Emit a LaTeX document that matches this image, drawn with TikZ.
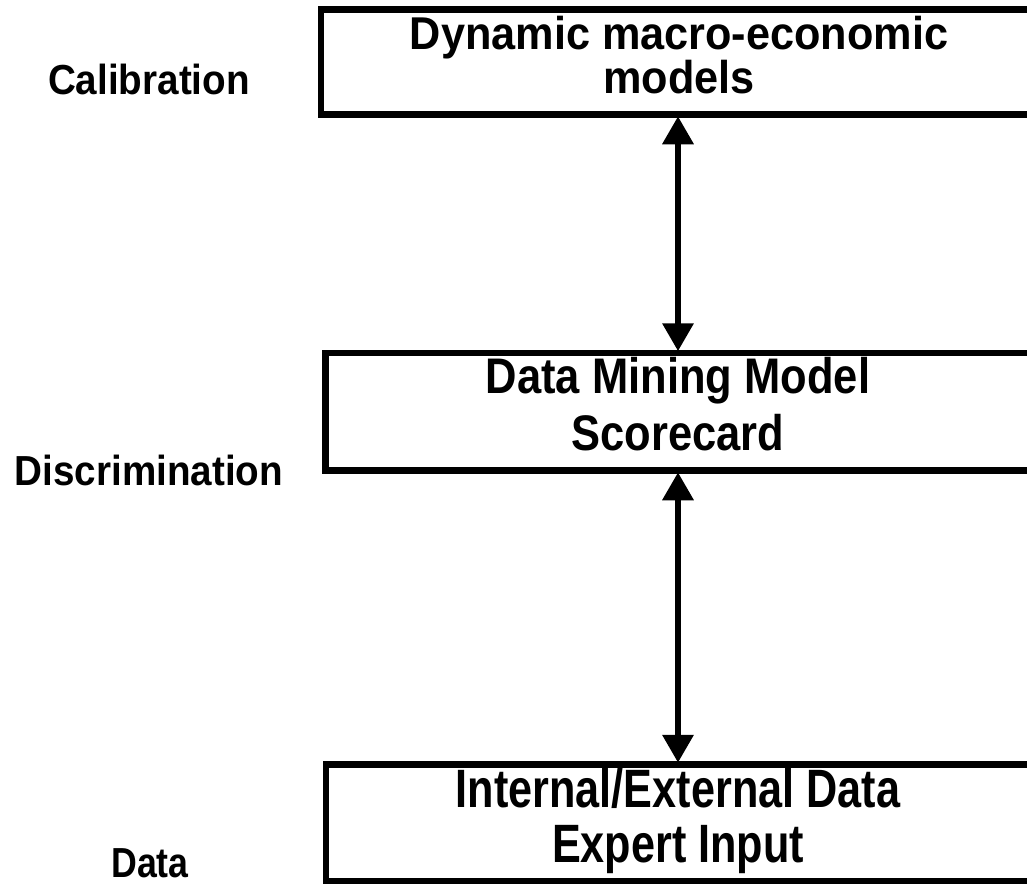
\documentclass[tikz,border=0pt]{standalone}
\usepackage{fontspec}
\setmainfont{Liberation Sans}
\usetikzlibrary{arrows.meta}
\begin{document}
\begin{tikzpicture}[x=1pt,y=-1pt,
  box/.style={draw=black,line width=6.5pt,fill=white,inner sep=0pt,rectangle},
  boxtext/.style={anchor=base,inner sep=0pt,font=\bfseries},
  sidelabel/.style={anchor=base,inner sep=0pt,text depth=0pt,font=\bfseries\fontsize{42}{42}\selectfont},
  link/.style={line width=6.5pt,{Triangle[width=30pt,length=28pt]}-{Triangle[width=30pt,length=28pt]},
    shorten <=-1.5pt,shorten >=-1.5pt}]
\useasboundingbox (0,0) rectangle (1027,883);
\fill[white] (0,0) rectangle (1027,883);
\clip (0,0) rectangle (1027,883);

% level boxes (they run past the right edge)
\node[box,minimum width=714pt,minimum height=105pt] (macro) at (678,62) {};
\node[box,minimum width=705pt,minimum height=117.5pt] (mining) at (678,411.75) {};
\node[box,minimum width=704pt,minimum height=116.5pt] (data) at (678,822.75) {};

% box captions
\node[boxtext] (macroA) at (679,50)
  {\fontsize{46}{46}\selectfont\addfontfeatures{FakeStretch=0.94}Dynamic macro-economic};
\node[boxtext] (macroB) at (679,93)
  {\fontsize{46}{46}\selectfont\addfontfeatures{FakeStretch=0.94}models};
\node[boxtext] (miningA) at (678,393)
  {\fontsize{50}{50}\selectfont\addfontfeatures{FakeStretch=0.87}Data Mining Model};
\node[boxtext] (miningB) at (678,450)
  {\fontsize{50}{50}\selectfont\addfontfeatures{FakeStretch=0.87}Scorecard};
\node[boxtext] (dataA) at (678,807)
  {\fontsize{54}{54}\selectfont\addfontfeatures{FakeStretch=0.80}Internal/External Data};
\node[boxtext] (dataB) at (678,862)
  {\fontsize{54}{54}\selectfont\addfontfeatures{FakeStretch=0.80}Expert Input};

% level names on the left
\node[sidelabel] (calib) at (149,94) {\addfontfeatures{FakeStretch=0.92}Calibration};
\node[sidelabel] (discr) at (149,485) {\addfontfeatures{FakeStretch=0.92}Discrimination};
\node[sidelabel] (dlab) at (150,877) {\addfontfeatures{FakeStretch=0.85}Data};

% two-way links between the levels
\draw[link] (macro.south -| 678,0) -- (mining.north -| 678,0);
\draw[link] (mining.south -| 678,0) -- (data.north -| 678,0);
\end{tikzpicture}
\end{document}
